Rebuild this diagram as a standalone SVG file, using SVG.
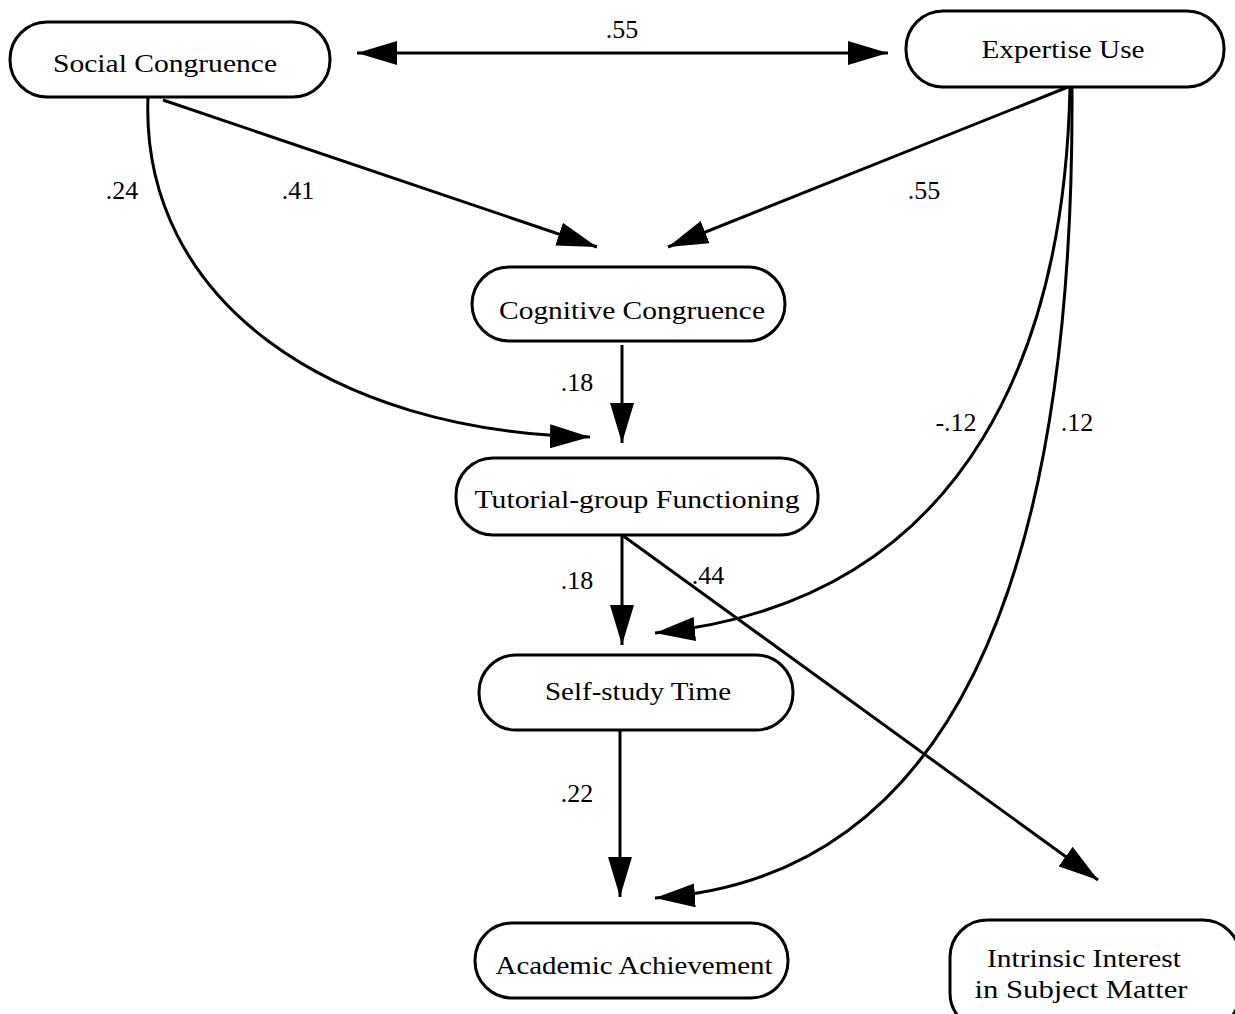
<svg xmlns="http://www.w3.org/2000/svg" width="1235" height="1014" viewBox="0 0 1235 1014">
<style>
.node rect{fill:#fff;stroke:#000;stroke-width:3}
.node text{font-family:"Liberation Serif","DejaVu Serif",serif;font-size:26px;fill:#000;text-anchor:middle}
.edge{fill:none;stroke:#000;stroke-width:3}
.lbl{font-family:"Liberation Serif","DejaVu Serif",serif;font-size:26px;fill:#000;text-anchor:middle}
</style>
<defs>
<marker id="ah" viewBox="0 0 40 24" refX="40" refY="12" markerWidth="40" markerHeight="24" markerUnits="userSpaceOnUse" orient="auto-start-reverse">
<path d="M0,0 L40,12 L0,24 Z" fill="#000"/>
</marker>
</defs>
<rect width="1235" height="1014" fill="#fff"/>
<g id="connectors">
<path class="edge" d="M357,53 L888,53" marker-start="url(#ah)" marker-end="url(#ah)"/>
<path class="edge" d="M163,100 L597,247" marker-end="url(#ah)"/>
<path class="edge" d="M1068,87 L668,247" marker-end="url(#ah)"/>
<path class="edge" d="M148,97 C140,300 330,432 590,437" marker-end="url(#ah)"/>
<path class="edge" d="M622,345 L622,443" marker-end="url(#ah)"/>
<path class="edge" d="M622,535 L622,645" marker-end="url(#ah)"/>
<path class="edge" d="M622,535 L1098,880" marker-end="url(#ah)"/>
<path class="edge" d="M1070,87 C1065,330 980,600 655,633" marker-end="url(#ah)"/>
<path class="edge" d="M1072,87 C1075,620 930,880 655,898" marker-end="url(#ah)"/>
<path class="edge" d="M620,730 L620,897" marker-end="url(#ah)"/>
<text class="lbl" x="622" y="38">.55</text>
<text class="lbl" x="122" y="199">.24</text>
<text class="lbl" x="298" y="199">.41</text>
<text class="lbl" x="924" y="199">.55</text>
<text class="lbl" x="577" y="391">.18</text>
<text class="lbl" x="956" y="431">-.12</text>
<text class="lbl" x="1077" y="431">.12</text>
<text class="lbl" x="577" y="589">.18</text>
<text class="lbl" x="708" y="584">.44</text>
<text class="lbl" x="577" y="802">.22</text>
</g>
<g id="social-congruence" class="node">
<rect x="10" y="22" width="320" height="75" rx="37"/>
<text x="165" y="72" textLength="224" lengthAdjust="spacingAndGlyphs">Social Congruence</text>
</g>
<g id="expertise-use" class="node">
<rect x="906" y="11" width="318" height="76" rx="37"/>
<text x="1063" y="58" textLength="163" lengthAdjust="spacingAndGlyphs">Expertise Use</text>
</g>
<g id="cognitive-congruence" class="node">
<rect x="472" y="267" width="313" height="74" rx="37"/>
<text x="632" y="319" textLength="266" lengthAdjust="spacingAndGlyphs">Cognitive Congruence</text>
</g>
<g id="tutorial-group-functioning" class="node">
<rect x="456" y="458" width="362" height="77" rx="37"/>
<text x="637" y="508" textLength="325" lengthAdjust="spacingAndGlyphs">Tutorial-group Functioning</text>
</g>
<g id="self-study-time" class="node">
<rect x="479" y="655" width="314" height="75" rx="37"/>
<text x="638" y="700" textLength="186" lengthAdjust="spacingAndGlyphs">Self-study Time</text>
</g>
<g id="academic-achievement" class="node">
<rect x="475" y="923" width="313" height="75" rx="37"/>
<text x="634" y="974" textLength="277" lengthAdjust="spacingAndGlyphs">Academic Achievement</text>
</g>
<g id="intrinsic-interest" class="node">
<rect x="950" y="920" width="290" height="110" rx="37"/>
<text x="1084" y="967" textLength="194" lengthAdjust="spacingAndGlyphs">Intrinsic Interest</text>
<text x="1081" y="998" textLength="213" lengthAdjust="spacingAndGlyphs">in Subject Matter</text>
</g>
</svg>
